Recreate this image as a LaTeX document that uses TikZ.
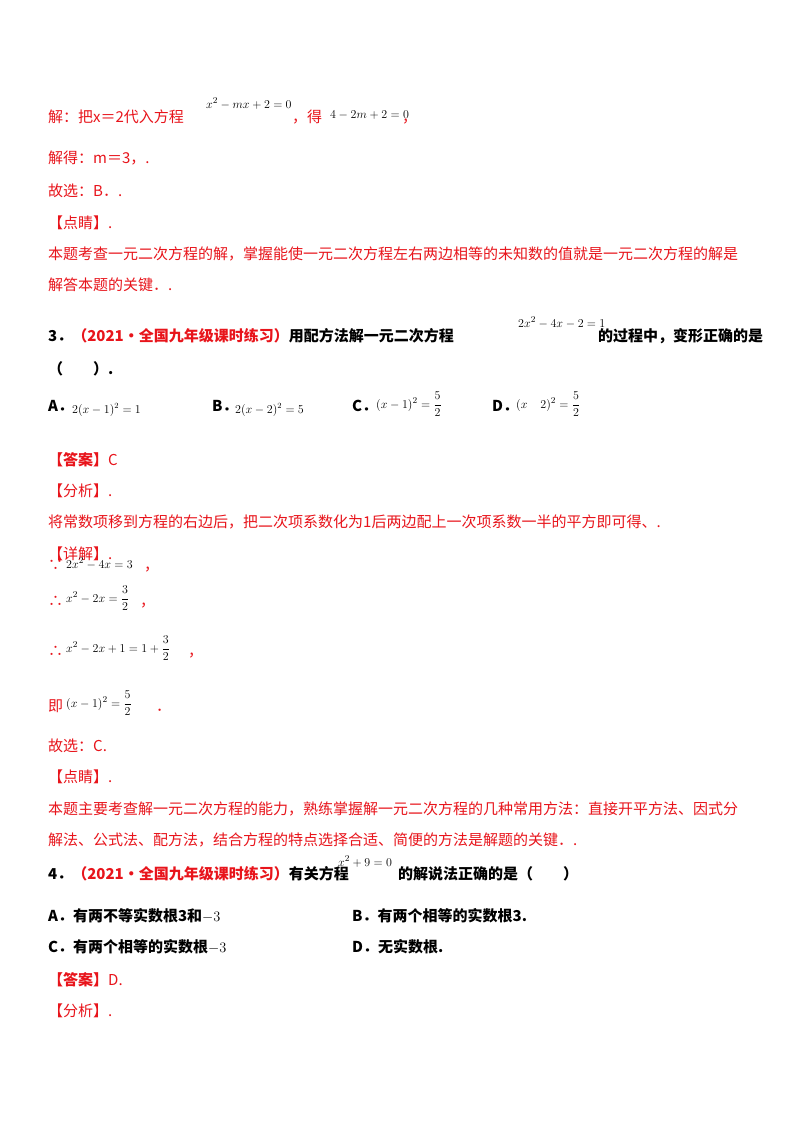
\documentclass[tikz,border=0pt]{standalone}
\usepackage{amsmath}
\usepackage{fontspec}
\setmainfont{Liberation Serif}
\newfontfamily\cjk{Noto Sans CJK SC}
\definecolor{rd}{HTML}{E8141B}
\begin{document}
\begin{tikzpicture}[x=1pt,y=-1pt,
  t/.style={anchor=base west,inner sep=0pt,font=\cjk\fontsize{15}{15}\selectfont},
  r/.style={t,text=rd},
  b/.style={t,font=\cjk\bfseries\fontsize{15}{15}\selectfont},
  m/.style={anchor=base west,inner sep=0pt,font=\fontsize{13}{13}\selectfont}]
\useasboundingbox[fill=white] (0,0) rectangle (800,1132);
\node[r] (l1) at (48,122) {解：把\textit{x}＝2代入方程};
\node[m] (e1) at (206,108) {$x^2-mx+2=0$};
\node[r] (l1b) at (292,122) {，得};
\node[m] (e2) at (330,118) {$4-2m+2=0$};
\node[r] (l1c) at (402,122) {，};
\node[r] (l2) at (48,163) {解得：\textit{m}＝3，.};
\node[r] (l3) at (48,196) {故选：B．.};
\node[r] (l4) at (48,228) {【点睛】.};
\node[r] (l5) at (48,259) {本题考查一元二次方程的解，掌握能使一元二次方程左右两边相等的未知数的值就是一元二次方程的解是};
\node[r] (l6) at (48,290) {解答本题的关键．.};
\node[b] (q3) at (48,341) {3．\textcolor{rd}{（2021·全国九年级课时练习）}用配方法解一元二次方程};
\node[m] (e3) at (518,327) {$2x^2-4x-2=1$};
\node[b] (q3b) at (598,341) {的过程中，变形正确的是};
\node[b] (q3c) at (48,374) {（　　）.};
\node[b] (oa) at (48,411) {A．};
\node[m] (ea) at (72,413) {\large$2(x-1)^2=1$};
\node[b] (ob) at (212,411) {B．};
\node[m] (eb) at (235,413) {\large$2(x-2)^2=5$};
\node[b] (oc) at (352,411) {C．};
\node[m] (ec) at (376,408) {$(x-1)^2=\dfrac{5}{2}$};
\node[b] (od) at (492,411) {D．};
\node[m] (ed) at (516,408) {$(x\quad 2)^2=\dfrac{5}{2}$};
\node[b] (ans) at (48,465) {\textcolor{rd}{【答案】}\textcolor{rd}{\mdseries C}};
\node[r] (an) at (48,496) {【分析】.};
\node[r] (an2) at (48,527) {将常数项移到方程的右边后，把二次项系数化为1后两边配上一次项系数一半的平方即可得、.};
\node[r] (xj) at (48,559) {【详解】.};
\node[r] (s1) at (48,570) {∵};
\node[m] (se1) at (66,568) {$2x^2-4x=3$};
\node[r] (s1b) at (144,570) {，};
\node[r] (s2) at (48,606) {∴};
\node[m] (se2) at (66,602) {$x^2-2x=\dfrac{3}{2}$};
\node[r] (s2b) at (140,606) {，};
\node[r] (s3) at (48,656) {∴};
\node[m] (se3) at (66,652) {$x^2-2x+1=1+\dfrac{3}{2}$};
\node[r] (s3b) at (188,656) {，};
\node[r] (s4) at (48,711) {即};
\node[m] (se4) at (66,707) {$(x-1)^2=\dfrac{5}{2}$};
\node[r] (s4b) at (156,711) {．};
\node[r] (g) at (48,751) {故选：C.};
\node[r] (dj) at (48,782) {【点睛】.};
\node[r] (dj2) at (48,814) {本题主要考查解一元二次方程的能力，熟练掌握解一元二次方程的几种常用方法：直接开平方法、因式分};
\node[r] (dj3) at (48,845) {解法、公式法、配方法，结合方程的特点选择合适、简便的方法是解题的关键．.};
\node[b] (q4) at (48,879) {4．\textcolor{rd}{（2021·全国九年级课时练习）}有关方程};
\node[m] (e4) at (338,866) {$x^2+9=0$};
\node[b] (q4b) at (398,879) {的解说法正确的是（　　）};
\node[b] (p1) at (48,921) {A．有两不等实数根3和\mdseries$-3$};
\node[b] (p2) at (352,921) {B．有两个相等的实数根3.};
\node[b] (p3) at (48,952) {C．有两个相等的实数根\mdseries$-3$};
\node[b] (p4) at (352,952) {D．无实数根.};
\node[b] (a4) at (48,985) {\textcolor{rd}{【答案】}\textcolor{rd}{\mdseries D.}};
\node[r] (a5) at (48,1016) {【分析】.};
\end{tikzpicture}
\end{document}
